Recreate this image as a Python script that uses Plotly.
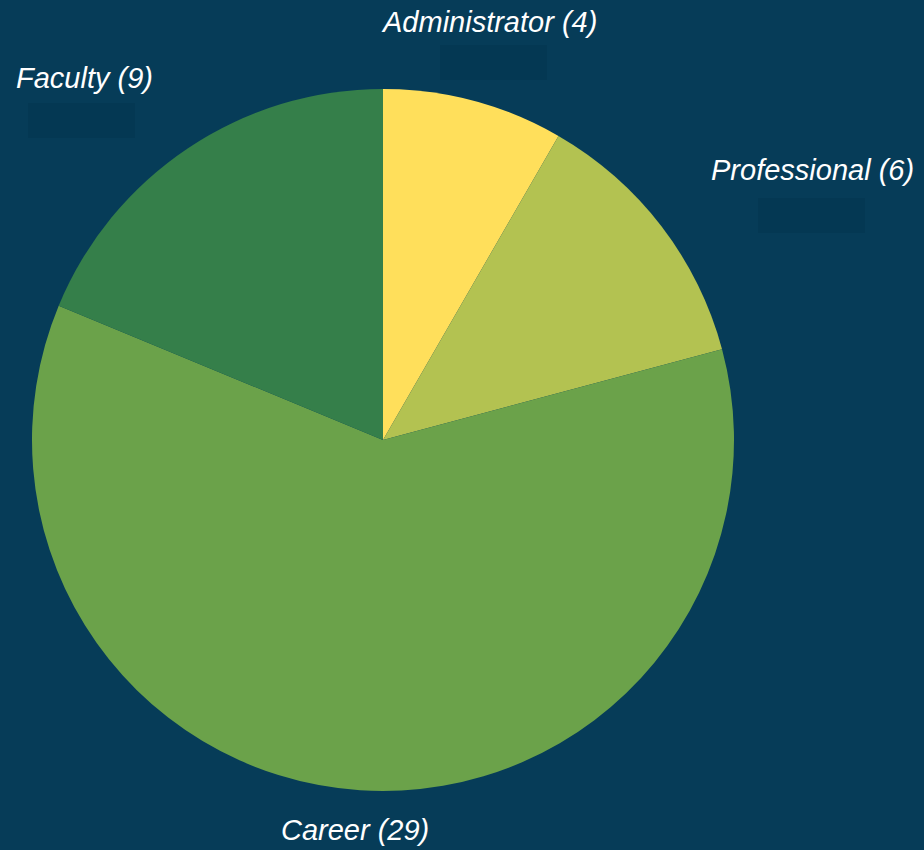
import plotly.graph_objects as go

categories = ["Administrator", "Professional", "Career", "Faculty"]
counts = [4, 6, 29, 9]
colors = ["#FFDF5B", "#B3C251", "#6BA24A", "#357F4A"]

# label anchor positions (paper coords)
label_pos = {
    "Administrator": (0.529, 0.974),
    "Professional": (0.879, 0.800),
    "Career": (0.384, 0.0235),
    "Faculty": (0.091, 0.908),
}

bg = "#063C58"

fig = go.Figure(go.Pie(
    labels=categories,
    values=counts,
    marker=dict(colors=colors, line=dict(width=0)),
    sort=False,
    direction="clockwise",
    rotation=0,
    textinfo="none",
    hoverinfo="label+value",
    showlegend=False,
    domain=dict(x=[0.0346, 0.7944], y=[0.0694, 0.8953]),
))

annotations = []
for c, v in zip(categories, counts):
    x, y = label_pos[c]
    annotations.append(dict(
        text=f"<i>{c} ({v})</i>", x=x, y=y, xref="paper", yref="paper",
        xanchor="center", yanchor="middle", showarrow=False,
        font=dict(family="Liberation Sans, Arial, sans-serif", size=29, color="#FFFFFF"),
    ))

# faint placeholder boxes under labels
boxes = [(440, 45, 547, 80), (758, 198, 865, 233), (28, 103, 135, 138)]
shapes = []
for x0, y0, x1, y1 in boxes:
    shapes.append(dict(type="rect", xref="paper", yref="paper",
                       x0=x0 / 924, x1=x1 / 924, y0=1 - y1 / 850, y1=1 - y0 / 850,
                       fillcolor="#043853", line=dict(width=0), layer="below"))

fig.update_layout(
    width=924, height=850,
    margin=dict(l=0, r=0, t=0, b=0),
    paper_bgcolor=bg, plot_bgcolor=bg,
    annotations=annotations,
    shapes=shapes,
)

fig.write_html(
    "out.html",
    config={"responsive": False, "displayModeBar": False},
    post_script="document.body.style.margin='0';document.body.style.background='" + bg + "';",
)
